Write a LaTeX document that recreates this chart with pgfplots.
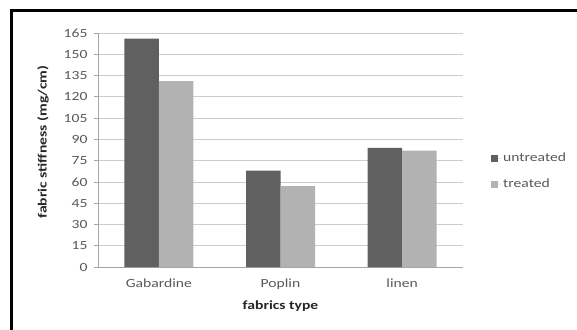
\documentclass[border=0pt]{standalone}
\usepackage{fontspec}
\setmainfont{Carlito}[FakeStretch=1.25]
\usepackage{pgfplots}
\pgfplotsset{compat=1.18}

\definecolor{untreatedc}{RGB}{96,96,96}
\definecolor{treatedc}{RGB}{178,178,178}
\definecolor{gridc}{RGB}{205,205,205}
\definecolor{axisc}{RGB}{165,165,165}
\definecolor{labelc}{RGB}{89,89,89}

\begin{document}
\begin{tikzpicture}[x=1pt,y=1pt]
\useasboundingbox (0,0) rectangle (577,-329);
% chart frame, running off the right and bottom edges
\begin{scope}
  \clip (0,0) rectangle (577,-329);
  \draw[line width=3pt, black] (11.5,-11) rectangle (600,-360);
\end{scope}

\begin{axis}[
  at={(98pt,-267pt)}, anchor=south west,
  scale only axis, width=365pt, height=234pt,
  ybar=0pt, bar width=34.5pt,
  xmin=-0.5, xmax=2.5, ymin=0, ymax=165,
  xtick=data, xticklabels={Gabardine,Poplin,linen},
  ytick={0,15,...,165},
  ymajorgrids, grid style={gridc, line width=0.8pt},
  axis x line*=bottom, axis y line*=left,
  axis line style={axisc, line width=0.8pt},
  x axis line style={-}, y axis line style={-},
  xtick style={draw=none},
  ytick style={axisc, line width=0.8pt},
  tick align=outside, major tick length=4pt,
  /pgf/number format/assume math mode=true,
  ticklabel style={font=\fontsize{12.5}{14}\selectfont, text=labelc},
  yticklabel style={xshift=-3pt},
  xticklabel style={yshift=-4pt},
  xlabel={\textbf{fabrics type}},
  ylabel={\textbf{fabric stiffness (mg/cm)}},
  label style={font=\fontsize{12.5}{14}\selectfont, text=black!85},
  xlabel style={at={(axis description cs:0.5,-0.1667)}, anchor=center},
  ylabel style={at={(axis description cs:-0.1507,0.534)}, anchor=center},
  legend style={draw=none, fill=none, at={(axis description cs:1.0767,0.41)},
    anchor=west, font=\fontsize{12.5}{14}\selectfont, text=labelc,
    row sep=12pt, inner sep=0pt,
    nodes={inner sep=1pt, text height=9pt, text depth=3pt}},
  legend cell align=left,
  legend image code/.code={%
    \fill[#1, draw=none] (0pt,-3.5pt) rectangle (7pt,3.5pt);
    \path (0pt,0pt) -- (11pt,0pt);},
]
\addplot[fill=untreatedc, draw=none] coordinates {(0,161) (1,68) (2,84)};
\addplot[fill=treatedc, draw=none] coordinates {(0,131) (1,57) (2,82)};
\legend{untreated, treated}
\end{axis}
\end{tikzpicture}
\end{document}
